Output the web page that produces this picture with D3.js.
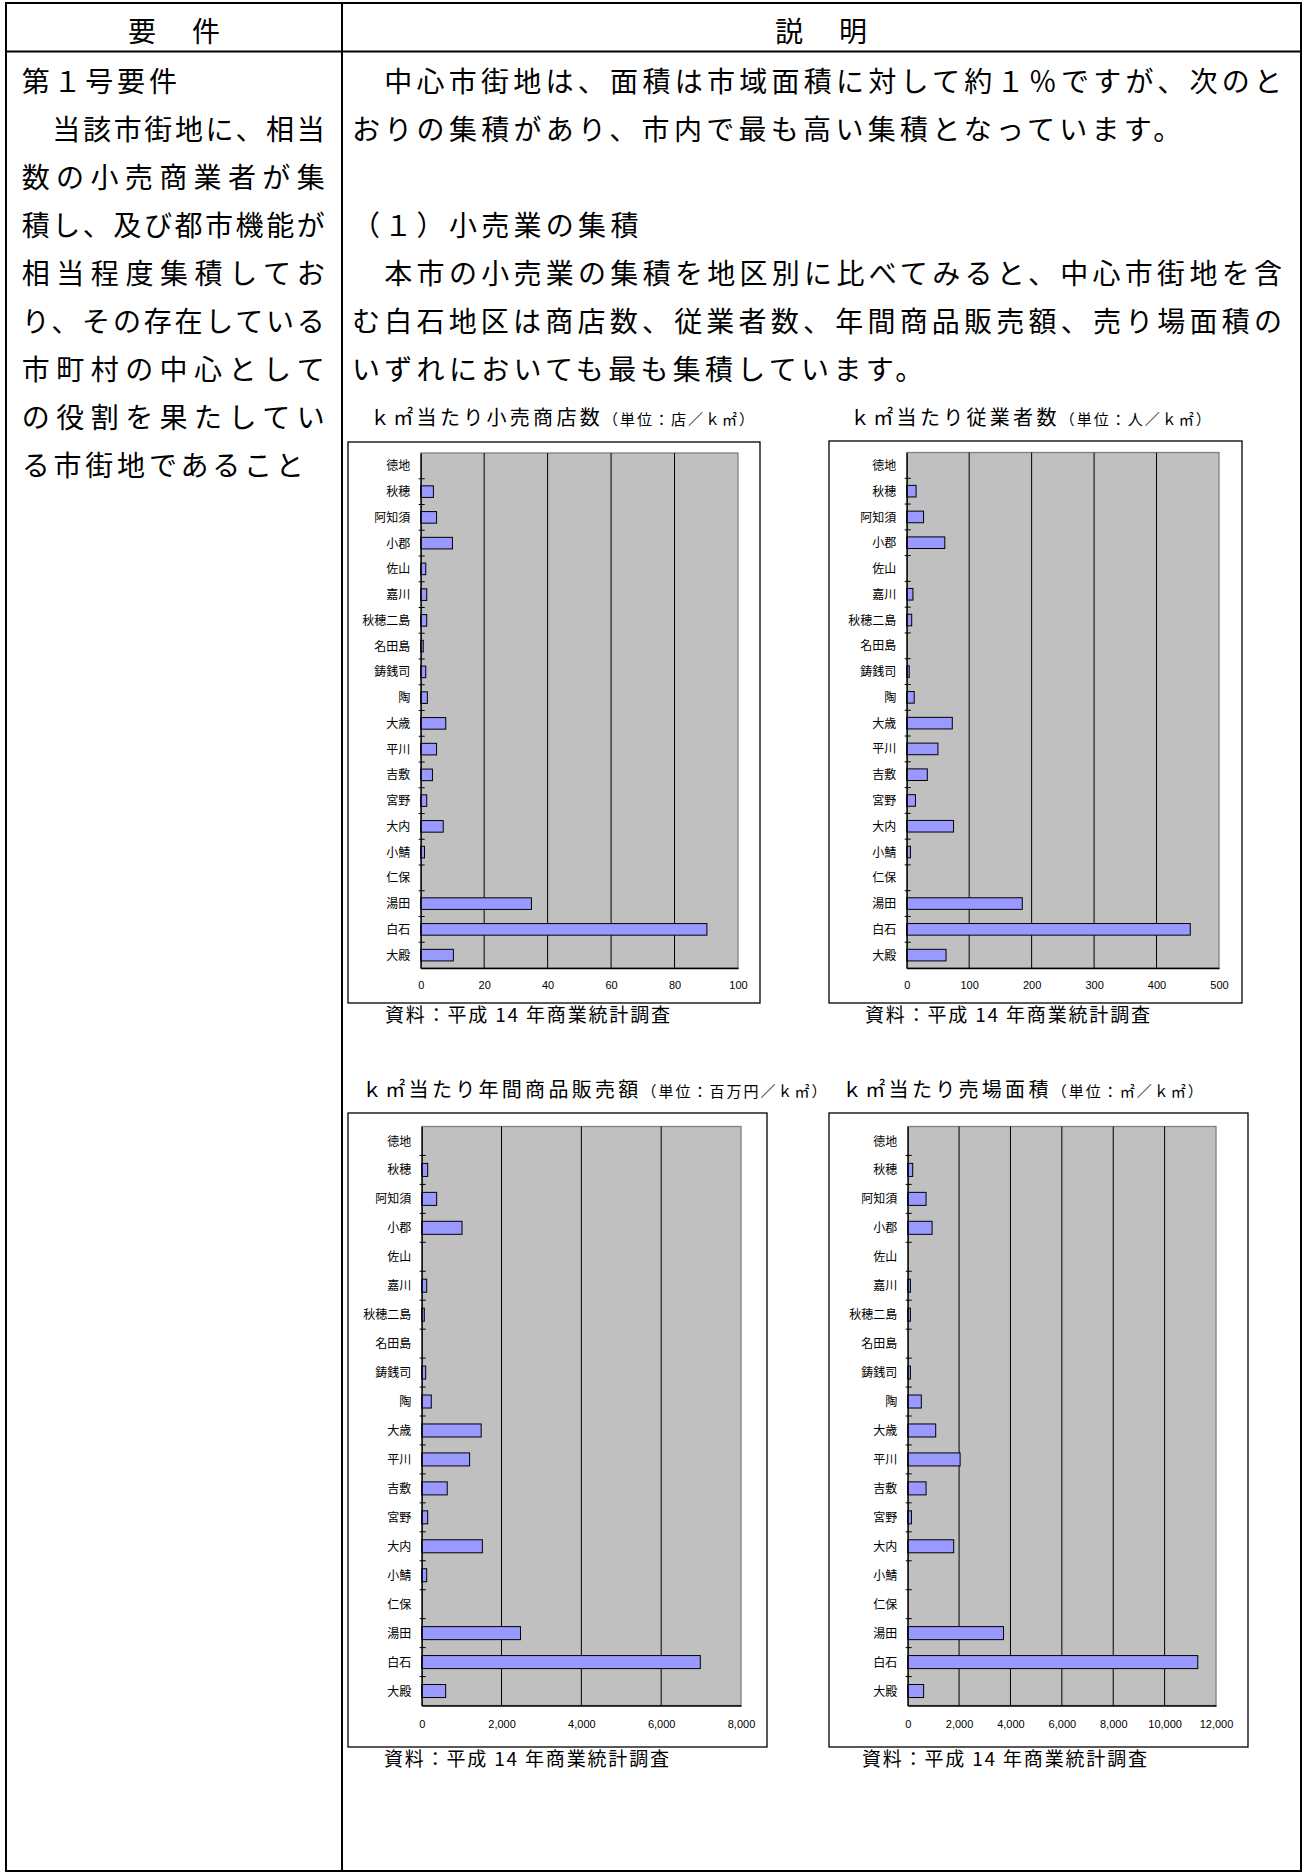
<!DOCTYPE html>
<html>
<head>
<meta charset="utf-8">
<script src="https://cdn.jsdelivr.net/npm/d3@7"></script>
<style>
  body { margin: 0; background: #fff; }
  svg text { font-family: "Noto Sans CJK JP", "Noto Sans", sans-serif; fill: #000; }
</style>
</head>
<body>
<div id="container"></div>
<script>
// districts, top to bottom as in the charts
var districts = ["徳地", "秋穂", "阿知須", "小郡", "佐山", "嘉川", "秋穂二島", "名田島", "鋳銭司", "陶",
                 "大歳", "平川", "吉敷", "宮野", "大内", "小鯖", "仁保", "湯田", "白石", "大殿"];

// values (per km2)
var shops   = [0, 4.0, 5.0, 10.0, 1.6, 1.9, 1.9, 0.8, 1.6, 2.1, 7.9, 5.0, 3.7, 1.9, 7.1, 1.2, 0, 34.9, 90.2, 10.3];
var workers = [0, 15, 27, 61, 0, 10, 8, 0, 4, 12, 73, 50, 33, 14, 75, 6, 0, 185, 454, 63];
var sales   = [0, 150, 375, 1010, 0, 125, 65, 0, 100, 240, 1490, 1200, 640, 150, 1520, 125, 0, 2475, 6980, 600];
var floorArea = [0, 195, 715, 950, 0, 105, 105, 0, 105, 530, 1090, 2040, 715, 145, 1790, 0, 0, 3730, 11290, 620];

var shopTicks   = [0, 20, 40, 60, 80, 100];
var workerTicks = [0, 100, 200, 300, 400, 500];
var salesTicks  = [0, 2000, 4000, 6000, 8000];
var floorTicks  = [0, 2000, 4000, 6000, 8000, 10000, 12000];

var titles = ["ｋ㎡当たり小売商店数", "ｋ㎡当たり従業者数", "ｋ㎡当たり年間商品販売額", "ｋ㎡当たり売場面積"];
var units  = ["（単位：店／ｋ㎡）", "（単位：人／ｋ㎡）", "（単位：百万円／ｋ㎡）", "（単位：㎡／ｋ㎡）"];
var source = "資料：平成 14 年商業統計調査";

var headLeft = "要　件";
var headRight = "説　明";
var leftLines = ["第１号要件", "　当該市街地に、相当", "数の小売商業者が集", "積し、及び都市機能が",
                 "相当程度集積してお", "り、その存在している", "市町村の中心として", "の役割を果たしてい",
                 "る市街地であること"];
var rightLines = ["　中心市街地は、面積は市域面積に対して約１％ですが、次のと",
                  "おりの集積があり、市内で最も高い集積となっています。",
                  "",
                  "（１）小売業の集積",
                  "　本市の小売業の集積を地区別に比べてみると、中心市街地を含",
                  "む白石地区は商店数、従業者数、年間商品販売額、売り場面積の",
                  "いずれにおいても最も集積しています。"];

var svgWidth = 1305;
var svgHeight = 1874;

var svg = d3.select("#container")
  .append("svg")
  .attr("width", svgWidth)
  .attr("height", svgHeight);

// ---- table frame ----
var colX = 342;
svg.append("rect")
  .attr("x", 6).attr("y", 3)
  .attr("width", 1295).attr("height", 1868)
  .attr("fill", "none").attr("stroke", "#000").attr("stroke-width", 2);
svg.append("line").attr("x1", 6).attr("x2", 1301).attr("y1", 51.5).attr("y2", 51.5)
  .attr("stroke", "#000").attr("stroke-width", 2);
svg.append("line").attr("x1", colX).attr("x2", colX).attr("y1", 3).attr("y2", 1871)
  .attr("stroke", "#000").attr("stroke-width", 2);

var fs = 28;
svg.append("text").attr("x", 176).attr("y", 31.7 + 0.36 * fs)
  .attr("text-anchor", "middle").style("font-size", fs + "px").style("letter-spacing", "4px")
  .text(headLeft);
svg.append("text").attr("x", 823).attr("y", 31.7 + 0.36 * fs)
  .attr("text-anchor", "middle").style("font-size", fs + "px").style("letter-spacing", "4px")
  .text(headRight);

function rowY(i) { return 81.7 + 48 * i + 0.36 * fs; }

// left column: justified lines except first and last
leftLines.forEach(function(t, i) {
  var el = svg.append("text").attr("x", 21.7).attr("y", rowY(i))
    .style("font-size", fs + "px").text(t);
  if (i > 0 && i < leftLines.length - 1) {
    el.attr("textLength", 303).attr("lengthAdjust", "spacing");
  } else {
    el.style("letter-spacing", "3.8px");
  }
});

// right column
var justifiedRight = [0, 4, 5];
rightLines.forEach(function(t, i) {
  if (!t) return;
  var el = svg.append("text").attr("x", 352).attr("y", rowY(i))
    .style("font-size", fs + "px").text(t);
  if (justifiedRight.indexOf(i) >= 0) {
    el.attr("textLength", 930).attr("lengthAdjust", "spacing");
  } else {
    el.style("letter-spacing", "4.3px");
  }
});

// ---- chart panels ----
var panels = [
  { frame: [348, 442, 760, 1003], plot: [420.7, 453, 738, 968], title: [370, 418], src: [385, 1015], pad: 13 },
  { frame: [829, 441, 1242, 1003], plot: [906.7, 452.5, 1219, 968], title: [850, 418], src: [865, 1015], pad: 13 },
  { frame: [348, 1113, 767, 1747], plot: [421.7, 1126.5, 741, 1705.5], title: [362, 1090], src: [384, 1759], pad: 14.5 },
  { frame: [829, 1113, 1248, 1747], plot: [907.7, 1126.5, 1216, 1705.5], title: [842, 1090], src: [862, 1759], pad: 14.5 }
];

function drawChart(p, values, ticks, fmt, title, unit) {
  var g = svg.append("g");

  g.append("text")
    .attr("x", p.title[0]).attr("y", p.title[1] + 7)
    .call(function(t) {
      t.append("tspan").style("font-size", "20px").style("letter-spacing", "3.3px").text(title);
      t.append("tspan").style("font-size", "15px").style("letter-spacing", "2px").text(unit);
    });

  g.append("rect")
    .attr("x", p.frame[0]).attr("y", p.frame[1])
    .attr("width", p.frame[2] - p.frame[0]).attr("height", p.frame[3] - p.frame[1])
    .attr("fill", "#fff").attr("stroke", "#000").attr("stroke-width", 1.3);

  var x = d3.scaleLinear().domain([0, d3.max(ticks)]).range([p.plot[0], p.plot[2]]);
  var y = d3.scaleBand().domain(districts).range([p.plot[1], p.plot[3]])
    .paddingInner(0.55).paddingOuter(0.275);

  g.append("rect")
    .attr("x", x(0)).attr("y", p.plot[1])
    .attr("width", x(d3.max(ticks)) - x(0)).attr("height", p.plot[3] - p.plot[1])
    .attr("fill", "#c0c0c0").attr("stroke", "#808080").attr("stroke-width", 1.3);

  g.selectAll(".grid")
    .data(ticks.slice(1, -1))
    .enter()
    .append("line")
    .attr("x1", d => x(d)).attr("x2", d => x(d))
    .attr("y1", p.plot[1]).attr("y2", p.plot[3])
    .attr("stroke", "#000").attr("stroke-width", 1);

  var rows = districts.map(function(d, i) { return { name: d, v: values[i] }; })
    .filter(d => d.v > 0);

  g.selectAll(".bar")
    .data(rows)
    .enter()
    .append("rect")
    .attr("x", x(0))
    .attr("y", d => y(d.name))
    .attr("width", d => x(d.v) - x(0))
    .attr("height", y.bandwidth())
    .attr("fill", "#9999ff")
    .attr("stroke", "#000")
    .attr("stroke-width", 1);

  var xAxis = d3.axisBottom(x).tickValues(ticks).tickSize(0).tickSizeOuter(0)
    .tickPadding(p.pad).tickFormat(fmt);
  var xg = g.append("g").attr("transform", `translate(0, ${p.plot[3]})`).call(xAxis);
  xg.attr("font-size", 11).attr("font-family", "'Liberation Sans', Arial, sans-serif");
  xg.select(".domain").attr("stroke", "#000").attr("stroke-width", 1.3);
  xg.selectAll("text").style("font-family", "'Liberation Sans', Arial, sans-serif");

  var yAxis = d3.axisLeft(y).tickSize(0).tickSizeOuter(0).tickPadding(10.5);
  var yg = g.append("g").attr("transform", `translate(${x(0)}, 0)`).call(yAxis);
  yg.attr("font-size", 12);
  yg.select(".domain").attr("stroke", "#000").attr("stroke-width", 1.3);
  yg.selectAll("text").attr("dy", "0.38em").style("font-family", "'Noto Sans CJK JP', sans-serif");

  // category boundary tick marks
  var bounds = districts.map(d => y(d) + y.bandwidth() / 2 - y.step() / 2).slice(1);
  g.selectAll(".ytick")
    .data(bounds)
    .enter()
    .append("line")
    .attr("x1", x(0) - 2).attr("x2", x(0) + 4)
    .attr("y1", d => d).attr("y2", d => d)
    .attr("stroke", "#000").attr("stroke-width", 1);

  g.append("text")
    .attr("x", p.src[0]).attr("y", p.src[1] + 7)
    .attr("textLength", 285).attr("lengthAdjust", "spacing")
    .style("font-size", "19px")
    .text(source);
}

var plain = d3.format("d");
var comma = d3.format(",");
drawChart(panels[0], shops, shopTicks, plain, titles[0], units[0]);
drawChart(panels[1], workers, workerTicks, plain, titles[1], units[1]);
drawChart(panels[2], sales, salesTicks, comma, titles[2], units[2]);
drawChart(panels[3], floorArea, floorTicks, comma, titles[3], units[3]);
</script>
</body>
</html>
